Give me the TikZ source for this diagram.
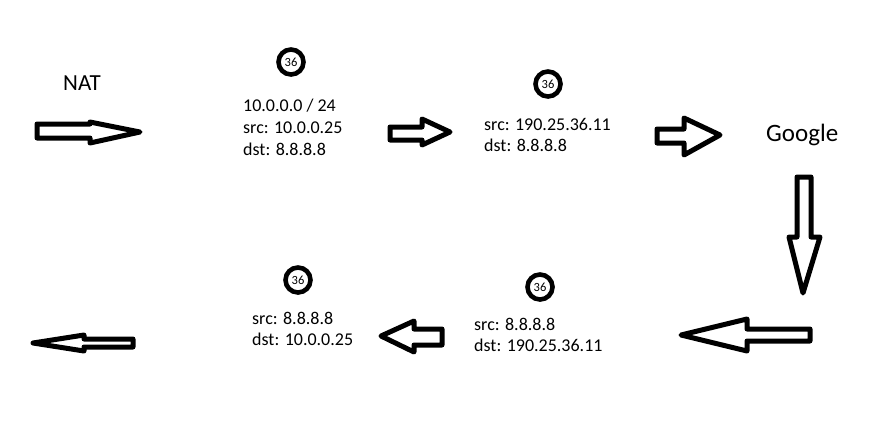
\documentclass[tikz,border=0pt]{standalone}
\usepackage{fontspec}
\setmainfont{Carlito}
\begin{document}
\begin{tikzpicture}[x=1pt,y=-1pt,
  blockarrow/.style={draw=black,line width=5pt,line join=round,fill=white},
  badge/.style={circle,draw=black,line width=4.6pt,minimum size=25pt,inner sep=0pt,font=\fontsize{12.5}{15}\selectfont},
  info/.style={anchor=base west,inner sep=0pt,font=\fontsize{18}{21.7}\selectfont},
  title/.style={anchor=base west,inner sep=0pt}]
\useasboundingbox[fill=white] (0,0) rectangle (896,421);

% labels
\node[title,font=\fontsize{23}{27}\selectfont] (nat) at (63,90) {NAT};
\node[title,font=\fontsize{25}{29}\selectfont] (google) at (766,141.5) {Google};

% badges
\node[badge] (c1) at (291,62) {36};
\node[badge] (c2) at (548,84) {36};
\node[badge] (c3) at (298,280) {36};
\node[badge] (c4) at (540,287) {36};

% text blocks
\node[info] (a1) at (243,111.7) {10.0.0.0 / 24};
\node[info] (a2) at (243,133.4) {src: 10.0.0.25};
\node[info] (a3) at (243,155.1) {dst: 8.8.8.8};

\node[info] (b1) at (484,130) {src: 190.25.36.11};
\node[info] (b2) at (484,151.7) {dst: 8.8.8.8};

\node[info] (d1) at (474,330) {src: 8.8.8.8};
\node[info] (d2) at (474,351.7) {dst: 190.25.36.11};

\node[info] (e1) at (252,324) {src: 8.8.8.8};
\node[info] (e2) at (252,345.7) {dst: 10.0.0.25};

% block arrows
\draw[blockarrow] (37,124) -- (90,124) -- (90,122) -- (140,132) -- (90,143) -- (90,138) -- (37,138) -- cycle;
\draw[blockarrow] (390,127) -- (422,127) -- (422,119) -- (450,132) -- (422,145) -- (422,140) -- (390,140) -- cycle;
\draw[blockarrow] (657,129) -- (684,129) -- (684,118) -- (720,135) -- (684,155) -- (684,143) -- (657,143) -- cycle;
\draw[blockarrow] (797,177) -- (811,177) -- (811,237) -- (820,237) -- (803,293) -- (789,237) -- (797,237) -- cycle;
\draw[blockarrow] (810,329) -- (747,329) -- (747,319) -- (681,335) -- (747,351) -- (747,341) -- (810,341) -- cycle;
\draw[blockarrow] (442,329) -- (414,329) -- (414,321) -- (381,336) -- (414,352) -- (414,345) -- (442,345) -- cycle;
\draw[blockarrow] (133,339) -- (84,339) -- (84,335) -- (33,343) -- (84,351) -- (84,347) -- (133,347) -- cycle;
\end{tikzpicture}
\end{document}
